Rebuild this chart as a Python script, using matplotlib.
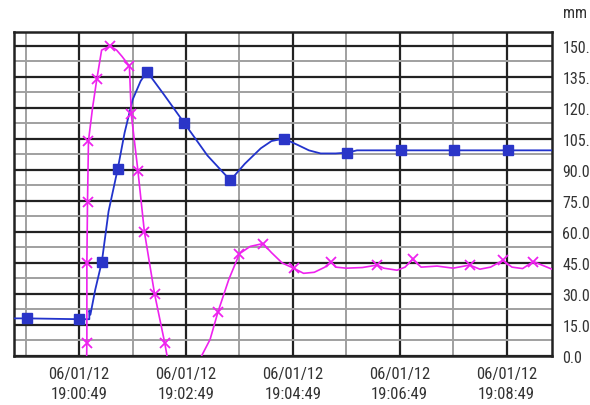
import matplotlib.pyplot as plt
from matplotlib import font_manager
import numpy as np

# x in minutes relative to 19:00:49, y in mm
blue_x = [-1.22, -0.98, 0.0, 0.19, 0.19, 0.21, 0.3, 0.425, 0.55, 0.72, 0.85, 1.0, 1.15, 1.27,
          1.6, 1.97, 2.4, 2.83, 3.1, 3.4, 3.6, 3.83, 4.1, 4.3, 4.52, 4.8, 5.02, 5.2, 6.0, 7.0, 8.0, 8.85]
blue_y = [18.2, 18.2, 17.8, 17.8, 22.0, 20.0, 32.0, 45.7, 70.0, 90.3, 108.0, 124.0, 133.0, 137.6,
          126.0, 112.6, 97.0, 85.0, 93.0, 100.5, 104.0, 105.2, 102.0, 99.5, 98.0, 98.0, 98.4, 99.5,
          99.5, 99.5, 99.5, 99.5]
blue_mx = [-0.98, 0.0, 0.425, 0.72, 1.27, 1.97, 2.83, 3.83, 5.02, 6.03, 7.02, 8.03]
blue_my = [18.2, 17.8, 45.7, 90.3, 137.6, 112.6, 85.0, 105.2, 98.4, 99.5, 99.5, 99.5]

mag_x = [-1.22, 0.13, 0.14, 0.144, 0.144, 0.156, 0.174, 0.25, 0.33, 0.42, 0.5, 0.58, 0.7, 0.8,
         0.94, 0.975, 1.1, 1.22, 1.41, 1.6, 1.68, 2.0, 2.2, 2.3, 2.45, 2.6, 2.8, 3.0, 3.2, 3.44,
         3.6, 3.8, 4.02, 4.2, 4.4, 4.6, 4.71, 4.8, 5.0, 5.3, 5.58, 5.7, 5.95, 6.1, 6.24, 6.4,
         6.7, 7.0, 7.31, 7.5, 7.7, 7.93, 8.1, 8.3, 8.5, 8.85]
mag_y = [-15.0, -15.0, 0.0, 6.5, 45.2, 74.7, 104.1, 120.0, 133.9, 148.0, 149.0, 150.0, 148.0, 145.0,
         140.3, 117.0, 89.5, 60.2, 30.2, 6.5, -5.0, -25.0, -5.0, 0.5, 8.0, 21.5, 37.0, 49.5, 53.0, 54.4,
         50.0, 45.0, 42.4, 40.0, 40.5, 43.0, 45.7, 43.0, 42.5, 42.8, 44.0, 42.5, 41.5, 43.0, 46.8, 43.0,
         43.5, 42.5, 44.0, 42.0, 43.0, 46.3, 43.0, 42.3, 45.7, 42.0]
mag_mx = [0.144, 0.144, 0.156, 0.174, 0.33, 0.58, 0.94, 0.975, 1.1, 1.22, 1.41, 1.6,
          2.6, 3.0, 3.44, 4.02, 4.71, 5.58, 6.24, 7.31, 7.93, 8.5]
mag_my = [6.5, 45.2, 74.7, 104.1, 133.9, 150.0, 140.3, 117.0, 89.5, 60.2, 30.2, 6.5,
          21.5, 49.5, 54.4, 42.4, 45.7, 44.0, 46.8, 44.0, 46.3, 45.7]

xtick_pos = [0, 2, 4, 6, 8]
xtick_labels = ["06/01/12\n19:00:49", "06/01/12\n19:02:49", "06/01/12\n19:04:49",
                "06/01/12\n19:06:49", "06/01/12\n19:08:49"]
ytick_pos = np.arange(0, 151, 15)
ytick_labels = ["%.1f" % v for v in ytick_pos]

# a narrow sans looks closest; fall back to Liberation Sans at a smaller size
fam, fs = 'Liberation Sans', 11
for name, size in [('Liberation Sans Narrow', 12.5), ('Roboto Condensed', 12), ('DejaVu Sans Condensed', 10.5)]:
    try:
        font_manager.findfont(font_manager.FontProperties(family=name), fallback_to_default=False)
        fam, fs = name, size
        break
    except Exception:
        pass
plt.rcParams['font.family'] = [fam, 'DejaVu Sans']

fig = plt.figure(figsize=(5.9, 4.06), dpi=100)
ax = fig.add_axes([14 / 590, 49 / 406, 538 / 590, 324.5 / 406])

ax.plot(blue_x, blue_y, color='#2233cc', lw=1.3, zorder=3)
ax.plot(blue_mx, blue_my, 's', color='#2a35c8', ms=7, zorder=4)
ax.plot(mag_x, mag_y, color='#ee22ee', lw=1.2, zorder=3)
ax.plot(mag_mx, mag_my, 'x', color='#ee22ee', ms=7, mew=1.3, zorder=4)

ax.set_xlim(-1.22, 8.85)
ax.set_ylim(0, 157)

ax.set_xticks(xtick_pos)
ax.set_xticklabels(xtick_labels, fontsize=fs, color='#333333', linespacing=1.45)
ax.set_xticks([-1, 1, 3, 5, 7], minor=True)
ax.set_yticks(ytick_pos)
ax.set_yticklabels(ytick_labels, fontsize=fs - 0.5, color='#333333')
ax.set_yticks(np.arange(7.5, 157, 15), minor=True)
ax.yaxis.tick_right()
ax.tick_params(which='both', length=0)
ax.tick_params(axis='x', pad=7)
ax.tick_params(axis='y', pad=7.5)

ax.grid(which='major', color='#222222', lw=1.6, zorder=1)
ax.grid(which='minor', color='#a0a0a0', lw=1.4, zorder=1)
ax.set_axisbelow(True)
for s in ax.spines.values():
    s.set_linewidth(1.8)
    s.set_color('#222222')

fig.text(563 / 590, 1 - 14 / 406, "mm", fontsize=fs - 0.5, color='#333333', va='center', ha='left')

plt.savefig("out.png")
